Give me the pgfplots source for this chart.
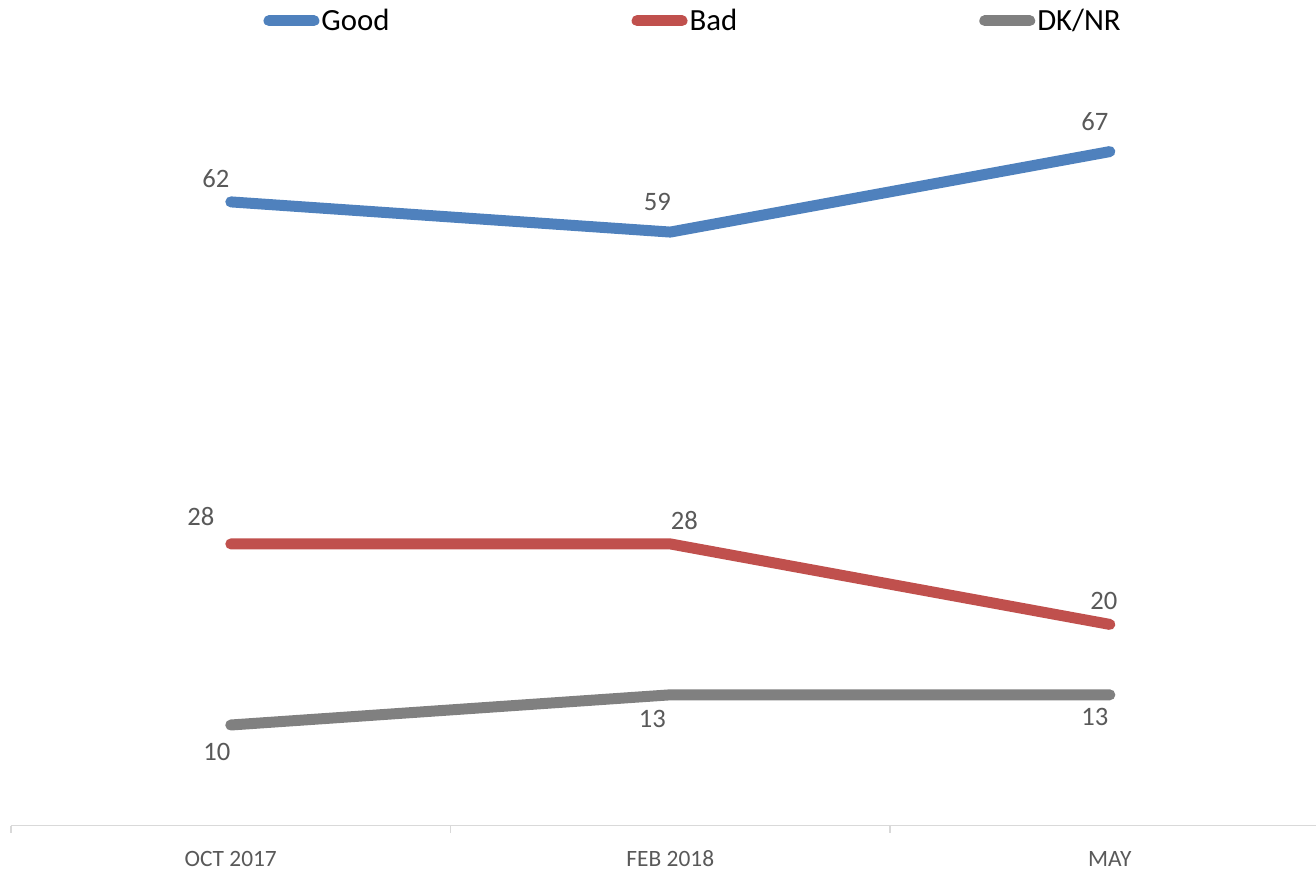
\documentclass[border=0pt]{standalone}
\usepackage{pgfplots}
\pgfplotsset{compat=1.18}
\usepackage{pgfplotstable}
\usepackage{fontspec}
\setmainfont{Carlito}
\definecolor{cgood}{HTML}{4F81BD}
\definecolor{cbad}{HTML}{C0504D}
\definecolor{cdk}{HTML}{808080}
\definecolor{ctxt}{HTML}{595959}
\definecolor{caxis}{HTML}{D9D9D9}

\pgfplotstableread{
x y dx dy
0 62 -7.5 11.5
1 59 -6.5 15
2 67 -7.5 15
}\good
\pgfplotstableread{
x y dx dy
0 28 -15 13.5
1 28 7 11.5
2 20 -3 11.5
}\bad
\pgfplotstableread{
x y dx dy
0 10 -7 -13.5
1 13 -9 -12
2 13 -7.5 -11
}\dknr

\begin{document}
\begin{tikzpicture}
\path[use as bounding box] (-5.5pt,-21.7pt) rectangle (652.5pt,412.8pt);
\begin{axis}[
  at={(0,0)}, anchor=south west,
  scale only axis,
  width=652.7pt, height=402.4pt,
  xmin=-0.5, xmax=2.47,
  ymin=0, ymax=80,
  clip=false,
  axis y line=none,
  axis x line*=bottom,
  x axis line style={draw=caxis, line width=0.6pt, -},
  xtick={0,1,2},
  xticklabels={OCT 2017, FEB 2018, MAY},
  major tick length=0pt,
  minor xtick={-0.5,0.5,1.5},
  minor tick length=3.5pt,
  xtick align=outside,
  every minor tick/.style={draw=caxis, line width=0.6pt},
  xticklabel style={anchor=base, yshift=-20.2pt, text=ctxt, font=\fontsize{11.7}{14}\selectfont},
  legend columns=3,
  legend style={at={(0.5225,1.0)}, anchor=center, draw=none, fill=none,
    font=\fontsize{15.4}{18}\selectfont, text=black,
    /tikz/every even column/.append style={column sep=120pt},
    nodes={inner xsep=1pt}},
  legend image code/.code={\draw[#1, line width=5.5pt, line cap=round] (2.75pt,0pt) -- (25.25pt,0pt);},
  nodes near coords,
  point meta=explicit,
  visualization depends on={\thisrow{dx}\as\dx},
  visualization depends on={\thisrow{dy}\as\dy},
  every node near coord/.append style={anchor=center, xshift=\dx pt, yshift=\dy pt,
    text=ctxt, font=\fontsize{13.3}{16}\selectfont,
    /pgf/number format/assume math mode=true},
]
\addplot[cgood, line width=5.5pt, line cap=round, line join=round, mark=none]
  table[x=x, y=y, meta=y] {\good};
\addlegendentry{Good}
\addplot[cbad, line width=5.5pt, line cap=round, line join=round, mark=none]
  table[x=x, y=y, meta=y] {\bad};
\addlegendentry{Bad}
\addplot[cdk, line width=5.5pt, line cap=round, line join=round, mark=none]
  table[x=x, y=y, meta=y] {\dknr};
\addlegendentry{DK/NR}
\end{axis}
\end{tikzpicture}
\end{document}
